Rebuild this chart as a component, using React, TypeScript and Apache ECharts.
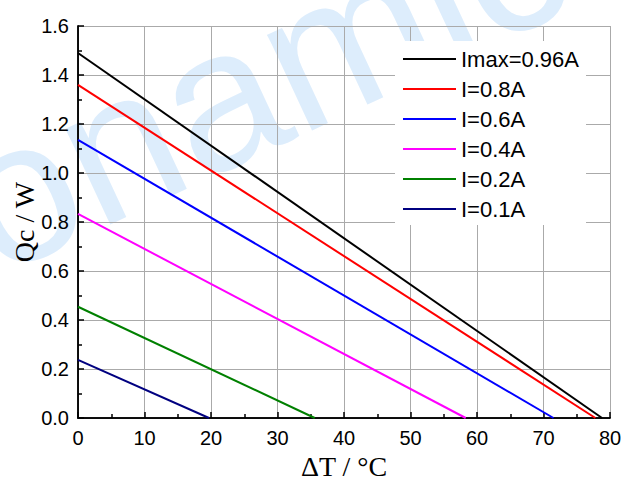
import React, { useEffect, useRef } from "react";
import * as echarts from "echarts";

const seriesNames = ["Imax=0.96A", "I=0.8A", "I=0.6A", "I=0.4A", "I=0.2A", "I=0.1A"];
const seriesColors = ["#000000", "#ff0000", "#0000ff", "#ff00ff", "#008000", "#000080"];
// Qc at ΔT = 0 (W)
const qcAtZero = [1.49, 1.36, 1.135, 0.833, 0.454, 0.237];
// ΔT where Qc = 0 (°C)
const dtAtZeroQc = [78.8, 77.8, 71.5, 58.3, 35.6, 19.7];

const xTicks = { min: 0, max: 80, interval: 10 };
const yTicks = { min: 0, max: 1.6, interval: 0.2 };

export default function App() {
  const ref = useRef<HTMLDivElement>(null);
  useEffect(() => {
    if (!ref.current) return;
    const chart = echarts.init(ref.current, null, { renderer: "svg" });
    const axisFont = { fontFamily: "Liberation Sans", fontSize: 20, color: "#000" };
    const series = seriesNames.map((name, i) => ({
      name,
      type: "line",
      data: [
        [0, qcAtZero[i]],
        [dtAtZeroQc[i], 0],
      ],
      symbol: "none",
      lineStyle: { color: seriesColors[i], width: 2 },
      itemStyle: { color: seriesColors[i] },
      z: 3,
    }));
    chart.setOption({
      animation: false,
      backgroundColor: "#ffffff",
      graphic: [
        {
          type: "text",
          z: -10,
          silent: true,
          x: 10,
          y: 305,
          rotation: (25 * Math.PI) / 180,
          style: {
            text: "onamic",
            fontSize: 200,
            fontFamily: "Liberation Sans",
            fill: "#ddedfc",
            textVerticalAlign: "bottom",
          },
        },
      ],
      grid: { left: 78, right: 13, top: 26, bottom: 62, outerBoundsMode: "none", containLabel: false },
      legend: {
        orient: "vertical",
        left: 395,
        top: 41,
        itemWidth: 53,
        itemHeight: 20,
        itemGap: 8,
        itemTextGap: 6,
        padding: [7, 7, 5, 8],
        backgroundColor: "#ffffff",
        icon: "path://M0,0h53v2h-53z",
        textStyle: { fontFamily: "Liberation Sans", fontSize: 22, color: "#000" },
        data: seriesNames,
        z: 10,
      },
      xAxis: [
        {
          type: "value",
          min: xTicks.min,
          max: xTicks.max,
          interval: xTicks.interval,
          name: "ΔT / °C",
          nameLocation: "middle",
          nameGap: 34,
          nameMoveOverlap: false,
          nameTextStyle: { fontFamily: "Liberation Serif", fontSize: 28, color: "#000", lineHeight: 28 },
          axisLine: { show: true, onZero: false, lineStyle: { color: "#000", width: 1.5 } },
          axisTick: { show: true, inside: true, length: 6, lineStyle: { color: "#000", width: 1.5 } },
          minorTick: { show: true, splitNumber: 2, length: 4, lineStyle: { color: "#000", width: 1.5 } },
          axisLabel: { ...axisFont, margin: 10 },
          splitLine: { show: true, lineStyle: { color: "#aaaaaa", width: 1 } },
        },
        {
          type: "value",
          position: "top",
          min: xTicks.min,
          max: xTicks.max,
          interval: xTicks.interval,
          axisLine: { show: true, lineStyle: { color: "#000", width: 1.5 } },
          axisTick: { show: false },
          axisLabel: { show: false },
          splitLine: { show: false },
        },
      ],
      yAxis: [
        {
          type: "value",
          min: yTicks.min,
          max: yTicks.max,
          interval: yTicks.interval,
          name: "Qc / W",
          nameLocation: "middle",
          nameGap: 40,
          nameMoveOverlap: false,
          nameTextStyle: { fontFamily: "Liberation Serif", fontSize: 28, color: "#000", lineHeight: 28 },
          axisLine: { show: true, onZero: false, lineStyle: { color: "#000", width: 1.5 } },
          axisTick: { show: true, inside: true, length: 6, lineStyle: { color: "#000", width: 1.5 } },
          minorTick: { show: true, splitNumber: 2, length: 4, lineStyle: { color: "#000", width: 1.5 } },
          axisLabel: { ...axisFont, margin: 9, formatter: (v: number) => v.toFixed(1) },
          splitLine: { show: true, lineStyle: { color: "#aaaaaa", width: 1 } },
        },
        {
          type: "value",
          position: "right",
          min: yTicks.min,
          max: yTicks.max,
          interval: yTicks.interval,
          axisLine: { show: true, lineStyle: { color: "#000", width: 1.5 } },
          axisTick: { show: false },
          axisLabel: { show: false },
          splitLine: { show: false },
        },
      ],
      series,
    });
    return () => chart.dispose();
  }, []);
  return (
    <div
      ref={ref}
      style={{ position: "fixed", left: 0, top: 0, width: 623, height: 480 }}
    />
  );
}
